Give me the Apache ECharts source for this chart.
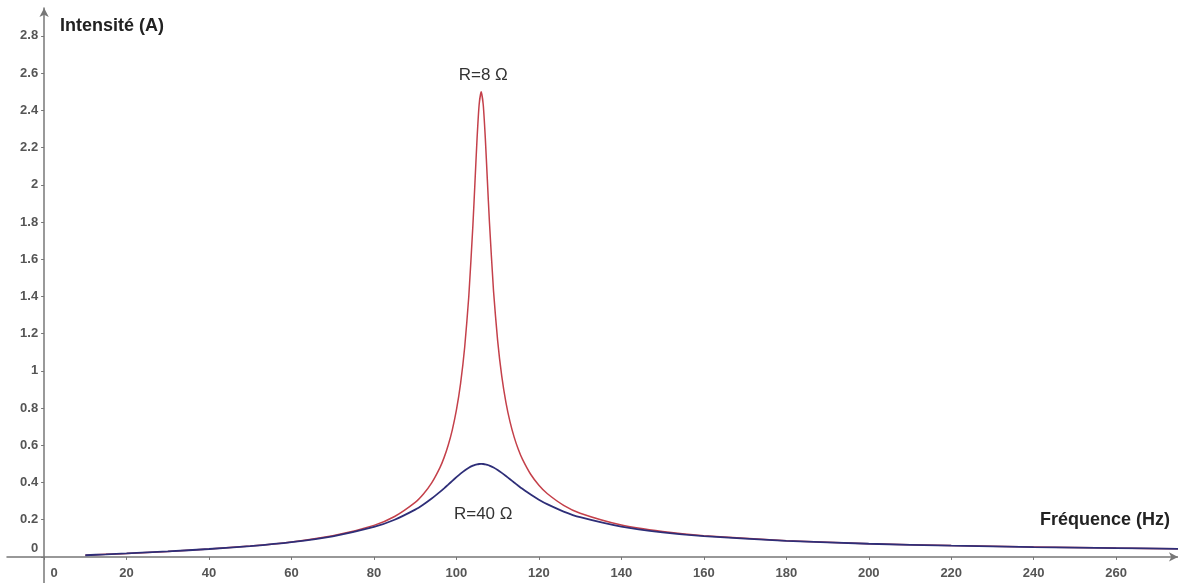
<!DOCTYPE html>
<html>
<head>
<meta charset="utf-8">
<script src="https://cdn.jsdelivr.net/npm/echarts@6/dist/echarts.min.js"></script>
<style>
html,body{margin:0;padding:0;background:#fff;}
#chart{width:1178px;height:583px;}
</style>
</head>
<body>
<div id="chart"></div>
<script>
// Frequencies (Hz)
var frequencies = [10,15,20,30,40,50,60,70,80,85,90,92,94,96,97,98,99,100,101,102,103,104,104.5,105,105.5,106,106.5,107,107.5,108,109,110,111,112,113,114,115,116,118,120,122,126,130,140,150,160,180,200,220,240,260,275];
// Intensity (A) for R = 8 ohm
var intensityR8 = [0.0092,0.0140,0.0190,0.0299,0.0427,0.0589,0.0808,0.1136,0.1698,0.2173,0.2933,0.3384,0.3979,0.480,0.5338,0.600,0.6833,0.790,0.9316,1.127,1.401,1.785,2.016,2.247,2.429,2.5,2.430,2.252,2.025,1.801,1.428,1.161,0.970,0.831,0.726,0.644,0.5788,0.5258,0.4445,0.3856,0.3411,0.2777,0.2352,0.1718,0.1369,0.1145,0.0875,0.0715,0.0609,0.0533,0.0475,0.0440];
// Intensity (A) for R = 40 ohm
var intensityR40 = [0.0092,0.0140,0.0190,0.0298,0.0426,0.0585,0.0798,0.1109,0.1612,0.1999,0.2543,0.2820,0.3138,0.3496,0.3689,0.3887,0.4088,0.4286,0.4476,0.4649,0.4795,0.4907,0.4947,0.4976,0.4994,0.5,0.4994,0.4977,0.4948,0.4910,0.4805,0.4672,0.4517,0.4349,0.4175,0.400,0.3828,0.3662,0.3352,0.3077,0.2836,0.2440,0.2136,0.1629,0.1322,0.1117,0.0862,0.0708,0.0605,0.0530,0.0473,0.0438];
// Tick labels
var xTicks = [0,20,40,60,80,100,120,140,160,180,200,220,240,260];
var yTicks = [0,0.2,0.4,0.6,0.8,1,1.2,1.4,1.6,1.8,2,2.2,2.4,2.6,2.8];
// Texts
var xName = 'Fréquence (Hz)';
var yName = 'Intensité (A)';
var labelR8 = 'R=8 Ω';
var labelR40 = 'R=40 Ω';
var labelR8Pos = [106.5, 2.59];
var labelR40Pos = [106.5, 0.23];

function pairs(xs, ys){ return xs.map(function(x,i){ return [x, ys[i]]; }); }

var FONT = '"Liberation Sans", Arial, sans-serif';
var AXIS_COLOR = '#777';

// pixel geometry
var W = 1178, H = 583;
var gLeft = 7, gTop = 8;
var xMinA = -9, xMax = 275, yMinA = -0.14, yMax = 2.95;
var pxPerX = (W - gLeft) / (xMax - xMinA);
var pxPerY = (H - gTop) / (yMax - yMinA);
var zeroX = gLeft - xMinA * pxPerX;
var zeroYBottom = H - (gTop + yMax * pxPerY);

var chart = echarts.init(document.getElementById('chart'), null, {renderer: 'canvas'});
chart.setOption({
  animation: false,
  backgroundColor: '#ffffff',
  grid: [
    {left: gLeft, right: 0, top: gTop, bottom: 0, containLabel: false, outerBoundsMode: 'none'},
    {left: zeroX, right: 0, top: gTop, bottom: zeroYBottom, containLabel: false, outerBoundsMode: 'none'}
  ],
  xAxis: [
    {
      gridIndex: 0, type: 'value', min: xMinA, max: xMax,
      axisLine: {show: true, onZero: true, symbol: ['none','arrow'], symbolSize: [7,9], lineStyle: {color: AXIS_COLOR, width: 1.5}},
      axisTick: {show: false}, axisLabel: {show: false}, splitLine: {show: false}
    },
    {
      gridIndex: 1, type: 'value', min: 0, max: xMax,
      axisLine: {show: false, onZero: false},
      axisTick: {show: true, length: 3, customValues: xTicks, lineStyle: {color: AXIS_COLOR}},
      axisLabel: {
        show: true, margin: 10, customValues: xTicks, hideOverlap: false,
        fontFamily: FONT, fontSize: 13, fontWeight: 'bold', color: '#555',
        formatter: function(v){ return v === 0 ? '{z|0}' : String(v); },
        rich: {z: {fontFamily: FONT, fontSize: 13, fontWeight: 'bold', color: '#555', padding: [0,0,0,20]}}
      },
      splitLine: {show: false}
    }
  ],
  yAxis: [
    {
      gridIndex: 0, type: 'value', min: yMinA, max: yMax,
      axisLine: {show: true, onZero: true, symbol: ['none','arrow'], symbolSize: [7,9], lineStyle: {color: AXIS_COLOR, width: 1.5}},
      axisTick: {show: false}, axisLabel: {show: false}, splitLine: {show: false}
    },
    {
      gridIndex: 1, type: 'value', min: 0, max: yMax,
      axisLine: {show: false, onZero: false},
      axisTick: {show: true, length: 3, customValues: yTicks, lineStyle: {color: AXIS_COLOR}},
      axisLabel: {
        show: true, margin: 6, customValues: yTicks, hideOverlap: false,
        fontFamily: FONT, fontSize: 13, fontWeight: 'bold', color: '#555',
        formatter: function(v){ return v === 0 ? '{z|0}' : String(v); },
        rich: {z: {fontFamily: FONT, fontSize: 13, fontWeight: 'bold', color: '#555', padding: [0,0,18,0]}}
      },
      splitLine: {show: false}
    }
  ],
  graphic: [
    {type: 'text', left: 60, top: 17, style: {text: yName, font: 'bold 18px ' + FONT, fill: '#222'}},
    {type: 'text', right: 8, top: 511, style: {text: xName, font: 'bold 18px ' + FONT, fill: '#222'}}
  ],
  series: [
    {
      name: 'R=8', type: 'line', xAxisIndex: 0, yAxisIndex: 0, data: pairs(frequencies, intensityR8),
      showSymbol: false, smooth: 0.2, lineStyle: {color: '#c4404a', width: 1.5}, itemStyle: {color: '#c4404a'},
      markPoint: {
        symbol: 'rect', symbolSize: 1, itemStyle: {color: 'rgba(0,0,0,0)'},
        label: {show: true, position: 'inside', formatter: labelR8, fontFamily: FONT, fontSize: 17, color: '#333'},
        data: [{coord: labelR8Pos}]
      }
    },
    {
      name: 'R=40', type: 'line', xAxisIndex: 0, yAxisIndex: 0, data: pairs(frequencies, intensityR40),
      showSymbol: false, smooth: 0.2, lineStyle: {color: '#2e2e78', width: 1.8}, itemStyle: {color: '#2e2e78'},
      markPoint: {
        symbol: 'rect', symbolSize: 1, itemStyle: {color: 'rgba(0,0,0,0)'},
        label: {show: true, position: 'inside', formatter: labelR40, fontFamily: FONT, fontSize: 17, color: '#333'},
        data: [{coord: labelR40Pos}]
      }
    }
  ]
});
</script>
</body>
</html>
